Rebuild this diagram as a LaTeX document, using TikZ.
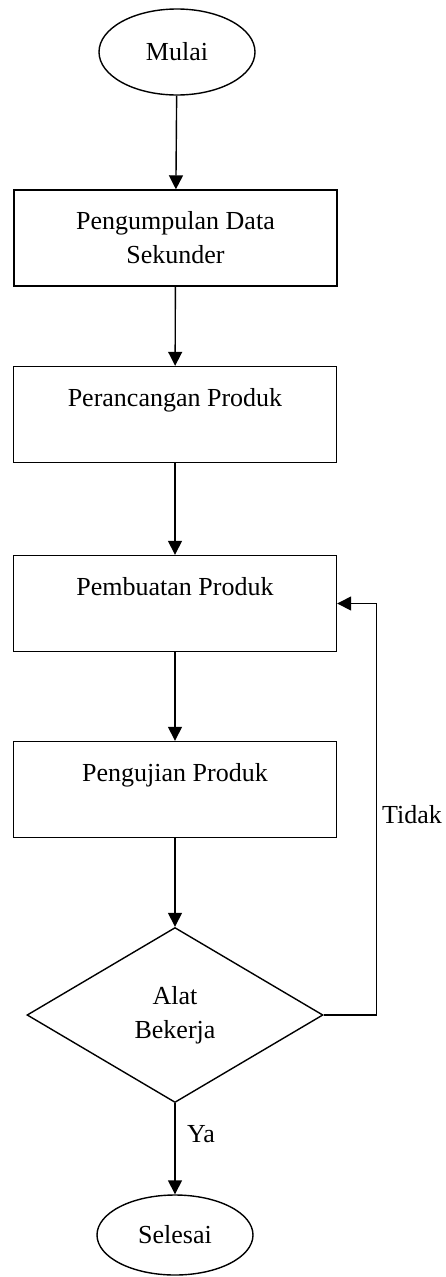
\documentclass[tikz,border=0pt]{standalone}
\usepackage{fontspec}
\setmainfont{Liberation Serif}
\usetikzlibrary{shapes.geometric,arrows.meta}

\begin{document}
\begin{tikzpicture}[x=1pt,y=-1pt,
   every node/.style={font=\fontsize{26}{34}\selectfont},
   terminal/.style={draw,ellipse,line width=1.4pt,minimum width=156pt,minimum height=86pt,inner sep=0pt},
   process/.style={draw,rectangle,line width=1.4pt,minimum width=323pt,minimum height=96pt,align=center,inner sep=0pt},
   decision/.style={draw,diamond,line width=1.4pt,minimum width=296pt,minimum height=175pt,aspect=1.7,align=center,inner sep=0pt},
   arrow/.style={line width=1.4pt,-{Triangle[length=14pt,width=14pt]}}]
\useasboundingbox (0,0) rectangle (446,1277);
\node[terminal] (mulai) at (177,52) {Mulai};
\node[process] (pengumpulan) at (175.5,238) {Pengumpulan Data\\Sekunder};
\node[process] (perancangan) at (175,414.5) {Perancangan Produk\\ \mbox{}};
\node[process] (pembuatan) at (175,603.5) {Pembuatan Produk\\ \mbox{}};
\node[process] (pengujian) at (175,789.5) {Pengujian Produk\\ \mbox{}};
\node[decision] (alat) at (175,1015) {Alat\\Bekerja};
\node[terminal,minimum height=80pt] (selesai) at (175,1235) {Selesai};
\node (tidak) at (412,815) {Tidak};
\node (ya) at (201,1134) {Ya};
% alur
\draw[arrow] (mulai) -- (pengumpulan);
\draw[arrow] (pengumpulan) -- (perancangan);
\draw[arrow] (perancangan) -- (pembuatan);
\draw[arrow] (pembuatan) -- (pengujian);
\draw[arrow] (pengujian) -- (alat);
\draw[arrow] (alat) -- (selesai);
\draw[arrow] (alat.east) -- ++(53,0) |- (pembuatan.east);
\end{tikzpicture}
\end{document}
